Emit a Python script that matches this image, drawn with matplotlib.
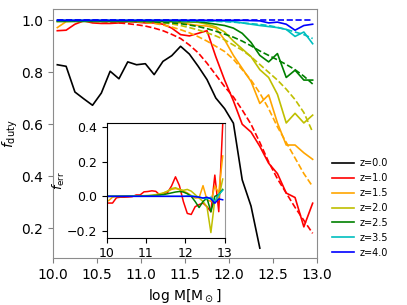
import matplotlib
matplotlib.use("Agg")
import matplotlib.pyplot as plt
import numpy as np

# bin centres in log halo mass
logm = [10.05, 10.15, 10.25, 10.35, 10.45, 10.55, 10.65, 10.75, 10.85, 10.95,
        11.05, 11.15, 11.25, 11.35, 11.45, 11.55, 11.65, 11.75, 11.85, 11.95,
        12.05, 12.15, 12.25, 12.35, 12.45, 12.55, 12.65, 12.75, 12.85, 12.95]

redshifts = ["z=0.0", "z=1.0", "z=1.5", "z=2.0", "z=2.5", "z=3.5", "z=4.0"]
colors = ["k", "r", "orange", "y", "g", "c", "b"]

# measured duty cycle (solid)
duty_z00 = [0.829, 0.823, 0.724, 0.698, 0.673, 0.720, 0.804, 0.775, 0.840, 0.829,
            0.833, 0.791, 0.842, 0.864, 0.900, 0.870, 0.823, 0.772, 0.701, 0.660,
            0.604, 0.386, 0.285, 0.123]
duty_z10 = [0.960, 0.962, 0.985, 0.998, 0.990, 0.988, 0.988, 0.990, 0.995, 0.993,
            0.990, 0.990, 0.985, 0.970, 0.945, 0.940, 0.950, 0.960, 0.860, 0.770,
            0.690, 0.600, 0.570, 0.515, 0.450, 0.410, 0.335, 0.318, 0.205, 0.296]
duty_z15 = [0.972, 0.995, 0.997, 0.997, 0.997, 0.997, 0.997, 0.997, 0.997, 0.997,
            0.997, 0.997, 0.996, 0.995, 0.990, 0.985, 0.980, 0.978, 0.970, 0.925,
            0.865, 0.815, 0.765, 0.680, 0.713, 0.605, 0.520, 0.520, 0.490, 0.465]
duty_z20 = [0.995, 0.996, 0.996, 0.996, 0.996, 0.996, 0.996, 0.996, 0.996, 0.996,
            0.996, 0.996, 0.995, 0.995, 0.995, 0.994, 0.992, 0.985, 0.975, 0.955,
            0.920, 0.890, 0.860, 0.810, 0.780, 0.715, 0.605, 0.642, 0.605, 0.635]
duty_z25 = [0.996, 0.996, 0.996, 0.996, 0.996, 0.996, 0.996, 0.996, 0.996, 0.996,
            0.996, 0.996, 0.996, 0.996, 0.995, 0.995, 0.995, 0.990, 0.985, 0.980,
            0.970, 0.950, 0.915, 0.865, 0.840, 0.872, 0.780, 0.808, 0.770, 0.770]
duty_z35 = [1.0, 1.0, 1.0, 1.0, 1.0, 1.0, 1.0, 1.0, 1.0, 1.0,
            1.0, 1.0, 1.0, 1.0, 1.0, 0.999, 0.999, 0.998, 0.998, 0.997,
            0.995, 0.990, 0.985, 0.980, 0.976, 0.972, 0.965, 0.938, 0.955, 0.910]
duty_z40 = [1.0, 1.0, 1.0, 1.0, 1.0, 1.0, 1.0, 1.0, 1.0, 1.0,
            1.0, 1.0, 1.0, 1.0, 1.0, 1.0, 1.0, 1.0, 1.0, 1.0,
            1.0, 1.0, 0.999, 0.998, 0.990, 0.993, 0.985, 0.962, 0.980, 0.985]

# fitted duty cycle (dashed)
fit_z10 = [0.999, 0.999, 0.998, 0.998, 0.997, 0.995, 0.993, 0.990, 0.987, 0.983,
           0.978, 0.970, 0.960, 0.946, 0.930, 0.905, 0.875, 0.835, 0.790, 0.745,
           0.705, 0.655, 0.600, 0.530, 0.455, 0.390, 0.335, 0.280, 0.230, 0.180]
fit_z15 = [0.999, 0.999, 0.999, 0.999, 0.998, 0.998, 0.997, 0.997, 0.996, 0.995,
           0.992, 0.988, 0.982, 0.974, 0.964, 0.952, 0.937, 0.920, 0.900, 0.880,
           0.850, 0.810, 0.770, 0.720, 0.660, 0.590, 0.530, 0.470, 0.410, 0.360]
fit_z20 = [0.999, 0.999, 0.999, 0.999, 0.999, 0.998, 0.998, 0.997, 0.997, 0.996,
           0.995, 0.993, 0.990, 0.986, 0.980, 0.972, 0.963, 0.952, 0.940, 0.925,
           0.905, 0.885, 0.860, 0.830, 0.800, 0.770, 0.735, 0.695, 0.645, 0.570]
fit_z25 = [0.999, 0.999, 0.999, 0.999, 0.999, 0.999, 0.998, 0.998, 0.997, 0.997,
           0.996, 0.994, 0.992, 0.990, 0.987, 0.982, 0.976, 0.968, 0.958, 0.947,
           0.935, 0.920, 0.902, 0.882, 0.865, 0.848, 0.830, 0.810, 0.785, 0.755]
fit_z35 = [1.0, 1.0, 1.0, 1.0, 1.0, 1.0, 1.0, 1.0, 1.0, 1.0,
           1.0, 1.0, 0.999, 0.999, 0.999, 0.998, 0.998, 0.997, 0.996, 0.995,
           0.993, 0.990, 0.987, 0.984, 0.980, 0.973, 0.965, 0.955, 0.945, 0.930]
fit_z40 = [1.0] * 30

# residuals shown in the inset
err_z10 = [-0.039, -0.039, -0.008, -0.005, -0.005, -0.004, -0.002, 0.008, 0.008, 0.026,
           0.028, 0.032, 0.029, 0.008, 0.017, 0.022, 0.060, 0.113, 0.062, -0.030,
           -0.099, -0.105, -0.060, -0.048, -0.039, -0.060, -0.089, 0.123, -0.089, 0.416]
err_z15 = [-0.025, -0.005, 0.0, 0.002, 0.003, 0.003, 0.003, 0.003, 0.003, 0.003,
           0.003, 0.003, 0.005, 0.010, 0.020, 0.030, 0.040, 0.045, 0.040, 0.030,
           0.020, 0.005, -0.010, -0.008, 0.062, -0.020, -0.030, 0.060, 0.020, 0.234]
err_z20 = [0.0, 0.0, 0.0, 0.0, 0.001, 0.001, 0.002, 0.002, 0.003, 0.004,
           0.005, 0.007, 0.010, 0.015, 0.020, 0.030, 0.045, 0.050, 0.040, 0.035,
           0.040, 0.030, 0.010, -0.010, -0.030, -0.060, -0.210, -0.020, -0.010, 0.100]
err_z25 = [0.0, 0.0, 0.0, 0.0, 0.0, 0.001, 0.001, 0.001, 0.002, 0.002,
           0.003, 0.004, 0.005, 0.008, 0.010, 0.015, 0.020, 0.025, 0.028, 0.025,
           0.015, 0.000, -0.030, -0.065, -0.030, -0.010, -0.090, 0.000, 0.010, 0.040]
err_z35 = [0.0] * 20 + [0.002, 0.002, 0.0, -0.005, -0.010, -0.015, -0.005, -0.030, 0.010, 0.035]
err_z40 = [0.0] * 22 + [-0.002, -0.005, -0.010, -0.005, -0.015, -0.040, -0.015, -0.020]

duty = [duty_z00, duty_z10, duty_z15, duty_z20, duty_z25, duty_z35, duty_z40]
fits = [None, fit_z10, fit_z15, fit_z20, fit_z25, fit_z35, fit_z40]
errs = [None, err_z10, err_z15, err_z20, err_z25, err_z35, err_z40]

fig = plt.figure(figsize=(4.07, 3.05), dpi=100)
ax = fig.add_axes([0.130, 0.154, 0.649, 0.816])

for lab, col, y, yf in zip(redshifts, colors, duty, fits):
    ax.plot(logm[:len(y)], y, color=col, lw=1.2, label=lab)
    if yf is not None:
        ax.plot(logm, yf, color=col, lw=1.2, ls="--")

ax.set_xlim(10, 13)
ax.set_ylim(0.085, 1.043)
ax.set_xticks(np.arange(10, 13.01, 0.5))
ax.set_yticks([0.2, 0.4, 0.6, 0.8, 1.0])
ax.set_xlabel(r"log M[M$_\odot$]", fontsize=10)
ax.set_ylabel(r"$f_{\rm duty}$", fontsize=10, labelpad=1)
ax.tick_params(labelsize=10, color="0.5")
for s in ax.spines.values():
    s.set_color("0.55")

fig.legend(loc="center left", bbox_to_anchor=(0.795, 0.318), frameon=False,
           fontsize=7, handlelength=2.2, handletextpad=0.6)

# inset with residuals
ins = fig.add_axes([0.262, 0.221, 0.290, 0.377])
for col, e in zip(colors[1:], errs[1:]):
    ins.plot(logm, e, color=col, lw=1.1)
ins.set_xlim(10, 13)
ins.set_ylim(-0.239, 0.427)
ins.set_xticks([10, 11, 12, 13])
ins.set_yticks([-0.2, 0.0, 0.2, 0.4])
ins.tick_params(labelsize=9)
ins.set_ylabel(r"$f_{\rm err}$", fontsize=9, labelpad=0)
ins.spines["right"].set_color("0.6")

fig.savefig("out.png", dpi=100)
